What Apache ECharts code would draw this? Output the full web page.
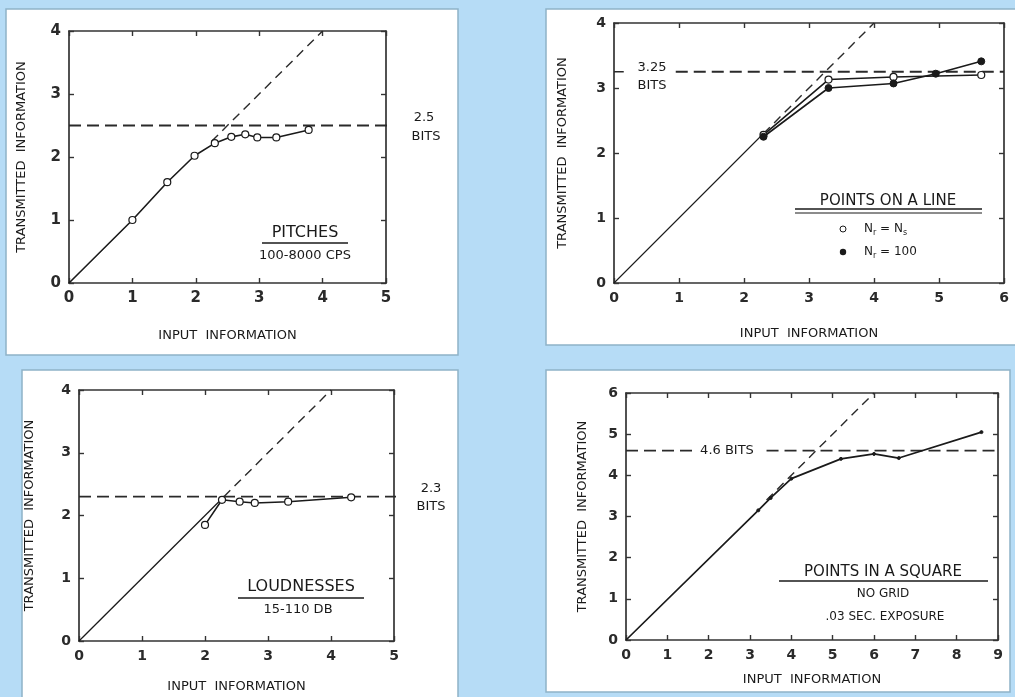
<!DOCTYPE html>
<html>
<head>
<meta charset="utf-8">
<script src="https://cdn.jsdelivr.net/npm/echarts@6/dist/echarts.min.js"></script>
<style>html,body{margin:0;padding:0;background:#b6dcf6;}#c{width:1015px;height:697px;}</style>
</head>
<body>
<div id="c"></div>
<script>
// ---- data ----
const xMax = [5, 6, 5, 9];
const yMax = [4, 4, 4, 6];
// Pitches
const pitchX = [0, 1.0, 1.55, 1.98, 2.3, 2.56, 2.78, 2.97, 3.27, 3.78];
const pitchY = [0, 1.0, 1.6, 2.02, 2.22, 2.32, 2.36, 2.31, 2.31, 2.43];
const pitchIdealX = [2.25, 4.0];
const pitchBits = 2.5;
// Points on a line
const lineOpenX = [2.3, 3.3, 4.3, 5.65];
const lineOpenY = [2.28, 3.13, 3.17, 3.2];
const lineFilledX = [2.3, 3.3, 4.3, 4.95, 5.65];
const lineFilledY = [2.25, 3.0, 3.07, 3.22, 3.41];
const lineIdealX = [0, 2.3, 4.0];
const lineBits = 3.25;
// Loudnesses
const loudX = [2.0, 2.27, 2.55, 2.79, 3.32, 4.32];
const loudY = [1.85, 2.25, 2.22, 2.2, 2.22, 2.29];
const loudIdealX = [0, 2.3, 4.0];
const loudBits = 2.3;
// Points in a square
const squareX = [0, 3.2, 3.5, 4.0, 5.2, 6.0, 6.6, 8.6];
const squareY = [0, 3.15, 3.45, 3.92, 4.4, 4.52, 4.42, 5.05];
const squareIdealX = [3.4, 6.0];
const squareBits = 4.6;

// ---- styling / layout ----
const FONT = 'DejaVu Sans';
const INK = '#1a1a1a';
const grids = [
  {left: 69, top: 31, width: 317, height: 252},
  {left: 614, top: 23, width: 390, height: 260},
  {left: 79, top: 390, width: 315, height: 251},
  {left: 626, top: 393, width: 372, height: 247}
];
const tickFont = [15, 14, 14, 14];
const xNameGap = [46, 44, 39, 33];
const yNameGap = [41, 45, 43, 37];

const xAxes = [], yAxes = [];
grids.forEach((g, i) => {
  const common = {
    min: 0, interval: 1, splitLine: {show: false},
    axisLine: {show: true, onZero: false, lineStyle: {color: '#333', width: 1.7}},
    axisTick: {show: true, inside: true, length: 5, lineStyle: {color: '#333', width: 1.4}}
  };
  const nameStyle = {fontFamily: FONT, fontSize: 13, color: INK};
  const labStyle = {margin: 8, fontFamily: FONT, fontSize: tickFont[i], fontWeight: 'bold', color: '#2a2a2a'};
  xAxes.push(Object.assign({}, common, {
    type: 'value', gridIndex: i, position: 'bottom', max: xMax[i],
    name: 'INPUT  INFORMATION', nameLocation: 'middle', nameGap: xNameGap[i],
    nameTextStyle: nameStyle, axisLabel: labStyle
  }));
  xAxes.push(Object.assign({}, common, {
    type: 'value', gridIndex: i, position: 'top', max: xMax[i], axisLabel: {show: false}
  }));
  yAxes.push(Object.assign({}, common, {
    type: 'value', gridIndex: i, position: 'left', max: yMax[i],
    name: 'TRANSMITTED  INFORMATION', nameLocation: 'middle', nameGap: yNameGap[i],
    nameTextStyle: nameStyle, axisLabel: labStyle
  }));
  yAxes.push(Object.assign({}, common, {
    type: 'value', gridIndex: i, position: 'right', max: yMax[i], axisLabel: {show: false}
  }));
});

function pts(xs, ys, noFirstSymbol) {
  return xs.map((x, k) => (noFirstSymbol && k === 0) ? {value: [x, ys[k]], symbol: 'none'} : [x, ys[k]]);
}
function diag(xs) { return xs.map(x => [x, x]); }
function hline(y, x0, x1) { return [[x0, y], [x1, y]]; }

const solid = (w) => ({color: INK, width: w || 1.5, type: 'solid'});
const dashed = {color: '#2a2a2a', width: 1.4, type: [9, 6]};
const refDashed = {color: '#2a2a2a', width: 1.8, type: [12, 6]};
const openSym = {color: '#fff', borderColor: INK, borderWidth: 1.2};
const filledSym = {color: INK, borderColor: INK, borderWidth: 1};

function s(i, data, extra) {
  return Object.assign({
    type: 'line', xAxisIndex: 2 * i, yAxisIndex: 2 * i, data: data,
    symbol: 'none', animation: false, silent: true, z: 3
  }, extra);
}

const series = [
  // Pitches
  s(0, pts(pitchX, pitchY, true), {symbol: 'circle', symbolSize: 7, itemStyle: openSym, lineStyle: solid(1.6), z: 4}),
  s(0, diag(pitchIdealX), {lineStyle: dashed}),
  s(0, hline(pitchBits, 0, 5.3), {lineStyle: refDashed, clip: false}),
  // Points on a line
  s(1, diag(lineIdealX.slice(0, 2)), {lineStyle: solid(1.1)}),
  s(1, diag(lineIdealX.slice(1)), {lineStyle: dashed}),
  s(1, hline(lineBits, 0.95, 6), {lineStyle: refDashed}),
  s(1, hline(lineBits, 0, 0.15), {lineStyle: {color: '#2a2a2a', width: 1.6}}),
  s(1, pts(lineOpenX, lineOpenY), {symbol: 'circle', symbolSize: 7, itemStyle: openSym, lineStyle: solid(1.6), z: 4}),
  s(1, pts(lineFilledX, lineFilledY), {symbol: 'circle', symbolSize: 7, itemStyle: filledSym, lineStyle: solid(1.6), z: 5}),
  // Loudnesses
  s(2, diag(loudIdealX.slice(0, 2)), {lineStyle: solid(1.3)}),
  s(2, diag(loudIdealX.slice(1)), {lineStyle: dashed}),
  s(2, hline(loudBits, 0, 5.3), {lineStyle: refDashed, clip: false}),
  s(2, pts(loudX, loudY), {symbol: 'circle', symbolSize: 7, itemStyle: openSym, lineStyle: solid(1.6), z: 4}),
  // Points in a square
  s(3, pts(squareX, squareY, true), {symbol: 'circle', symbolSize: 3, itemStyle: filledSym, lineStyle: solid(1.7), z: 4}),
  s(3, diag(squareIdealX), {lineStyle: dashed}),
  s(3, hline(squareBits, 0, 1.6), {lineStyle: refDashed}),
  s(3, hline(squareBits, 3.4, 9), {lineStyle: refDashed})
];

// ---- annotations ----
function txt(x, y, text, size, align, extra) {
  return Object.assign({
    type: 'text', x: x, y: y, z: 100,
    style: {text: text, font: size + 'px "' + FONT + '"', fill: INK, align: align || 'center', verticalAlign: 'middle'}
  }, extra || {});
}
function ln(x1, y1, x2, y2, w) {
  return {type: 'line', z: 100, shape: {x1: x1, y1: y1, x2: x2, y2: y2}, style: {stroke: INK, lineWidth: w || 1.4}};
}
function box(x, y, w, h) {
  return {type: 'rect', z: -10, shape: {x: x, y: y, width: w, height: h},
    style: {fill: '#ffffff', stroke: '#8fb2c8', lineWidth: 1.5}};
}
const sub = {n: {fontSize: 12, fontFamily: FONT, fill: INK}, s: {fontSize: 8, fontFamily: FONT, fill: INK, padding: [7, 0, 0, 0]}};

const graphic = [
  box(6, 9, 452, 346),
  box(546, 9, 470, 336),
  box(22, 370, 436, 330),
  box(546, 370, 464, 322),
  // Pitches
  txt(305, 233, 'PITCHES', 16),
  ln(262, 243, 348, 243, 1.4),
  txt(305, 256, '100-8000 CPS', 13),
  txt(424, 118, '2.5', 13),
  txt(426, 137, 'BITS', 13),
  // Points on a line
  txt(888, 201, 'POINTS ON A LINE', 15),
  ln(795, 209, 982, 209, 1.3),
  ln(795, 213, 982, 213, 1.1),
  {type: 'circle', z: 100, shape: {cx: 843, cy: 229, r: 3}, style: {fill: '#fff', stroke: INK, lineWidth: 1}},
  {type: 'circle', z: 100, shape: {cx: 843, cy: 252, r: 3.2}, style: {fill: INK}},
  {type: 'text', x: 864, y: 229, z: 100, style: {text: '{n|N}{s|r}{n| = N}{s|s}', rich: sub, verticalAlign: 'middle', align: 'left'}},
  {type: 'text', x: 864, y: 252, z: 100, style: {text: '{n|N}{s|r}{n| = 100}', rich: sub, verticalAlign: 'middle', align: 'left'}},
  txt(652, 68, '3.25', 13),
  txt(652, 86, 'BITS', 13),
  // Loudnesses
  txt(301, 587, 'LOUDNESSES', 16),
  ln(238, 598, 364, 598, 1.4),
  txt(298, 610, '15-110 DB', 13),
  txt(431, 489, '2.3', 13),
  txt(431, 507, 'BITS', 13),
  // Points in a square
  txt(883, 572, 'POINTS IN A SQUARE', 15),
  ln(779, 581, 988, 581, 1.3),
  txt(883, 594, 'NO GRID', 12),
  txt(885, 617, '.03 SEC. EXPOSURE', 12),
  txt(727, 451, '4.6 BITS', 13)
];

const chart = echarts.init(document.getElementById('c'), null, {renderer: 'canvas'});
chart.setOption({
  backgroundColor: '#b6dcf6',
  animation: false,
  grid: grids,
  xAxis: xAxes,
  yAxis: yAxes,
  series: series,
  graphic: graphic
});
</script>
</body>
</html>
